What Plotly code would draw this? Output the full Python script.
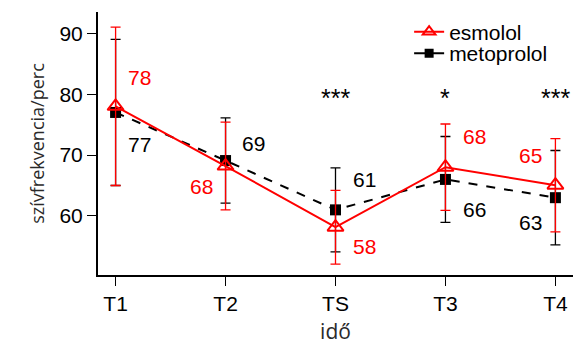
import plotly.graph_objects as go

categories = ["T1", "T2", "TS", "T3", "T4"]
esmolol = [78, 68.2, 58.15, 68, 65.05]
esmolol_err = [13, 7.2, 6.05, 7.1, 7.65]
esmolol_labels = ["78", "68", "58", "68", "65"]
metoprolol = [77, 69.1, 61, 66, 63]
metoprolol_err = [12, 7, 6.9, 7.05, 7.75]
metoprolol_labels = ["77", "69", "61", "66", "63"]
stars = ["", "", "***", "*", "***"]

x = list(range(len(categories)))
RED = "#ff0000"
FONT = "Liberation Sans"

fig = go.Figure()
fig.add_trace(go.Scatter(
    x=x, y=metoprolol, name="metoprolol", mode="lines+markers", showlegend=False,
    line=dict(color="black", width=2, dash="dash"),
    marker=dict(symbol="square", size=11, color="black"),
    error_y=dict(type="data", array=metoprolol_err, color="black", thickness=1.3, width=5),
))
fig.add_trace(go.Scatter(
    x=x, y=esmolol, name="esmolol", mode="lines+markers", showlegend=False,
    line=dict(color=RED, width=2),
    marker=dict(symbol="triangle-up-open", size=14, color=RED, line=dict(width=2)),
    error_y=dict(type="data", array=esmolol_err, color=RED, thickness=1.3, width=5),
))
# legend-only entries (solid sample lines as in the reference)
fig.add_trace(go.Scatter(
    x=[None], y=[None], name="esmolol", mode="lines+markers", legend="legend",
    line=dict(color=RED, width=2),
    marker=dict(symbol="triangle-up-open", size=11, color=RED, line=dict(width=2)),
))
fig.add_trace(go.Scatter(
    x=[None], y=[None], name="metoprolol", mode="lines+markers", legend="legend2",
    line=dict(color="black", width=2),
    marker=dict(symbol="square", size=9, color="black"),
))

# label offsets (pixels) relative to each marker
e_off = [("left", 10, 29), ("right", -11, -20), ("left", 15, -19), ("left", 16, 31), ("right", -11, 30)]
m_off = [("left", 10, -32), ("left", 14, 17), ("left", 15, 30), ("left", 16, -30), ("right", -11, -25)]

ann = []
for i in x:
    a, dx, dy = e_off[i]
    ann.append(dict(x=i, y=esmolol[i], text=esmolol_labels[i], showarrow=False,
                    xanchor=a, yanchor="middle", xshift=dx, yshift=dy,
                    font=dict(size=21, color=RED, family=FONT)))
    a, dx, dy = m_off[i]
    ann.append(dict(x=i, y=metoprolol[i], text=metoprolol_labels[i], showarrow=False,
                    xanchor=a, yanchor="middle", xshift=dx, yshift=dy,
                    font=dict(size=21, color="black", family=FONT)))
    if stars[i]:
        ann.append(dict(x=i, y=79.3, text=stars[i], showarrow=False,
                        xanchor="center", yanchor="middle",
                        font=dict(size=25, color="black", family=FONT)))

legend_common = dict(xanchor="left", yanchor="middle", bgcolor="rgba(0,0,0,0)",
                     font=dict(size=21, family=FONT, color="black"), itemwidth=30,
                     borderwidth=0)
fig.update_layout(
    width=573, height=345,
    margin=dict(l=98, r=0, t=12, b=70, autoexpand=False),
    paper_bgcolor="white", plot_bgcolor="white",
    showlegend=True,
    legend=dict(x=0.655, y=0.924, **legend_common),
    legend2=dict(x=0.655, y=0.842, **legend_common),
    annotations=ann,
)
fig.update_xaxes(
    range=[-0.16, 4.16], tickvals=x, ticktext=categories,
    showline=True, linecolor="black", linewidth=2, mirror=False,
    ticks="outside", ticklen=9, tickwidth=1.2, tickcolor="black",
    showgrid=False, zeroline=False,
    tickfont=dict(size=21, family=FONT, color="black"),
    title=dict(text="idő", font=dict(size=21, family="Open Sans", color="#2a2a2a"), standoff=14),
)
fig.update_yaxes(
    range=[50.3, 93.5], tickvals=[60, 70, 80, 90],
    showline=True, linecolor="black", linewidth=2, mirror=False,
    ticks="outside", ticklen=9, tickwidth=1.2, tickcolor="black",
    showgrid=False, zeroline=False,
    tickfont=dict(size=21, family=FONT, color="black"),
    title=dict(text="szívfrekvencia/perc", font=dict(size=18, family="Open Sans", color="#2a2a2a"), standoff=10),
)

fig.write_html("out.html", config={"displayModeBar": False},
               post_script="document.body.style.margin='0';document.body.style.padding='0';document.body.style.overflow='hidden';")
